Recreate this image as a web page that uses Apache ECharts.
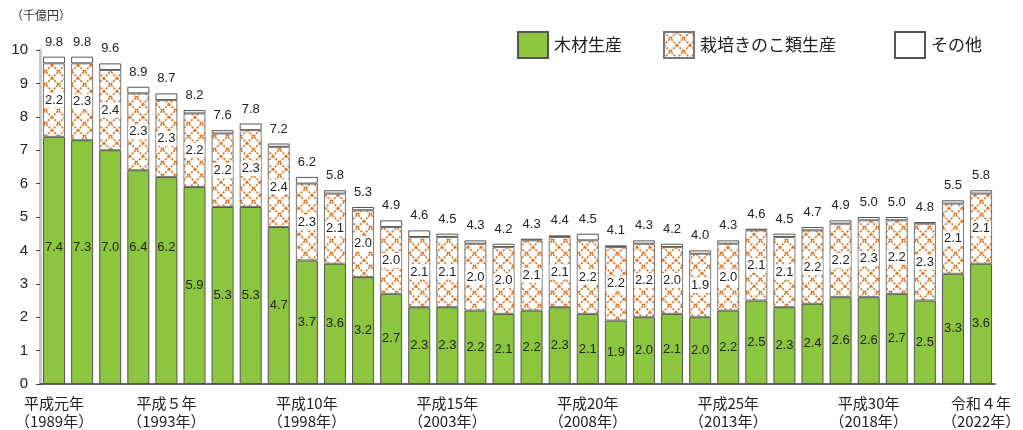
<!DOCTYPE html>
<html>
<head>
<meta charset="utf-8">
<script src="https://cdn.jsdelivr.net/npm/echarts@6/dist/echarts.min.js"></script>
<style>
  html, body { margin: 0; padding: 0; background: #fff; }
  #chart { width: 1023px; height: 430px; }
</style>
</head>
<body>
<div id="chart"></div>
<script>
// 年（平成元年〜令和4年）
var years = [1989,1990,1991,1992,1993,1994,1995,1996,1997,1998,1999,2000,2001,2002,2003,2004,2005,
             2006,2007,2008,2009,2010,2011,2012,2013,2014,2015,2016,2017,2018,2019,2020,2021,2022];
// 和暦ラベル（表示する年だけ）
var eraLabels = { 1989:'平成元年', 1993:'平成５年', 1998:'平成10年', 2003:'平成15年',
                  2008:'平成20年', 2013:'平成25年', 2018:'平成30年', 2022:'令和４年' };
// 木材生産
var wood = [7.4,7.3,7.0,6.4,6.2,5.9,5.3,5.3,4.7,3.7,3.6,3.2,2.7,2.3,2.3,2.2,2.1,
            2.2,2.3,2.1,1.9,2.0,2.1,2.0,2.2,2.5,2.3,2.4,2.6,2.6,2.7,2.5,3.3,3.6];
// 栽培きのこ類生産
var mushroom = [2.2,2.3,2.4,2.3,2.3,2.2,2.2,2.3,2.4,2.3,2.1,2.0,2.0,2.1,2.1,2.0,2.0,
                2.1,2.1,2.2,2.2,2.2,2.0,1.9,2.0,2.1,2.1,2.2,2.2,2.3,2.2,2.3,2.1,2.1];
// その他
var other = [0.2,0.2,0.2,0.2,0.2,0.1,0.1,0.2,0.1,0.2,0.1,0.1,0.2,0.2,0.1,0.1,0.1,
             0.05,0.05,0.2,0.05,0.1,0.1,0.1,0.1,0.05,0.1,0.1,0.1,0.1,0.1,0.05,0.1,0.1];
// 合計
var totals = [9.8,9.8,9.6,8.9,8.7,8.2,7.6,7.8,7.2,6.2,5.8,5.3,4.9,4.6,4.5,4.3,4.2,
              4.3,4.4,4.5,4.1,4.3,4.2,4.0,4.3,4.6,4.5,4.7,4.9,5.0,5.0,4.8,5.5,5.8];

var chart = echarts.init(document.getElementById('chart'));

// クロスハッチ（栽培きのこ類）
function makeHatch(size, color, width) {
    var c = document.createElement('canvas');
    c.width = size; c.height = size;
    var ctx = c.getContext('2d');
    ctx.fillStyle = '#fff';
    ctx.fillRect(0, 0, size, size);
    ctx.strokeStyle = color;
    ctx.lineWidth = width;
    ctx.setLineDash([2.2, 1.2]);
    ctx.beginPath();
    ctx.moveTo(0, 0); ctx.lineTo(size, size);
    ctx.moveTo(size, 0); ctx.lineTo(0, size);
    ctx.stroke();
    return c;
}
var hatch = { image: makeHatch(13, '#DA7B2E', 1.7), repeat: 'repeat' };

var font = '"Liberation Sans", Arial, "Noto Sans CJK JP", sans-serif';
var jpFont = '"Noto Sans CJK JP", sans-serif';
var pxPerUnit = 33.4;

// 最初の5本は数値を少し上に置く
var woodData = wood.map(function (v, i) {
    if (i < 5) {
        return { value: v, label: { offset: [0, -(4.1 - v / 2) * pxPerUnit] } };
    }
    return v;
});

var legendBase = {
    icon: 'rect',
    itemWidth: 30,
    itemHeight: 26,
    itemGap: 5,
    top: 26,
    textStyle: { fontSize: 17, color: '#222', fontFamily: jpFont, padding: [0, 0, 0, 1] }
};

var option = {
    animation: false,
    textStyle: { fontFamily: font },
    graphic: [{
        type: 'text', left: 11, top: 9,
        style: { text: '（千億円）', font: '12px ' + jpFont, fill: '#333' }
    }],
    legend: [
        Object.assign({ left: 512, data: ['木材生産'] }, legendBase),
        Object.assign({ left: 658, data: ['栽培きのこ類生産'] }, legendBase),
        Object.assign({ left: 889, data: ['その他'] }, legendBase)
    ],
    grid: { left: 40, right: 14, top: 50, bottom: 46 },
    xAxis: {
        type: 'category',
        data: years,
        axisLine: { lineStyle: { color: '#333', width: 1.5 } },
        axisTick: { show: false },
        axisLabel: {
            interval: function (i, v) { return eraLabels[v] !== undefined; },
            formatter: function (v) { return eraLabels[v] + '\n（' + v + '年）'; },
            fontSize: 15, lineHeight: 18, color: '#222', margin: 10,
            fontFamily: jpFont
        }
    },
    yAxis: {
        type: 'value',
        min: 0, max: 10, interval: 1,
        splitLine: { show: false },
        axisLine: { show: true, lineStyle: { color: '#c8c8c8', width: 3 } },
        axisTick: { show: true, length: 4, lineStyle: { color: '#444' } },
        axisLabel: { fontSize: 15, color: '#222', margin: 12 }
    },
    series: [
        {
            name: '木材生産', type: 'bar', stack: 'total', barWidth: 22,
            data: woodData,
            itemStyle: { color: '#8CC63E', borderColor: '#555', borderWidth: 1 },
            label: {
                show: true, position: 'inside', fontSize: 13, color: '#222',
                formatter: function (p) { return p.value.toFixed(1); }
            }
        },
        {
            name: '栽培きのこ類生産', type: 'bar', stack: 'total', barWidth: 22,
            data: mushroom,
            itemStyle: { color: hatch, borderColor: '#777', borderWidth: 1 },
            label: {
                show: true, position: 'inside', fontSize: 13, color: '#222',
                backgroundColor: '#fff', padding: [1, 1],
                formatter: function (p) { return p.value.toFixed(1); }
            }
        },
        {
            name: 'その他', type: 'bar', stack: 'total', barWidth: 22,
            data: other,
            itemStyle: { color: '#fff', borderColor: '#555', borderWidth: 1 },
            label: {
                show: true, position: 'top', distance: 8, fontSize: 13, color: '#222',
                formatter: function (p) { return totals[p.dataIndex].toFixed(1); }
            }
        }
    ]
};

chart.setOption(option);
</script>
</body>
</html>
